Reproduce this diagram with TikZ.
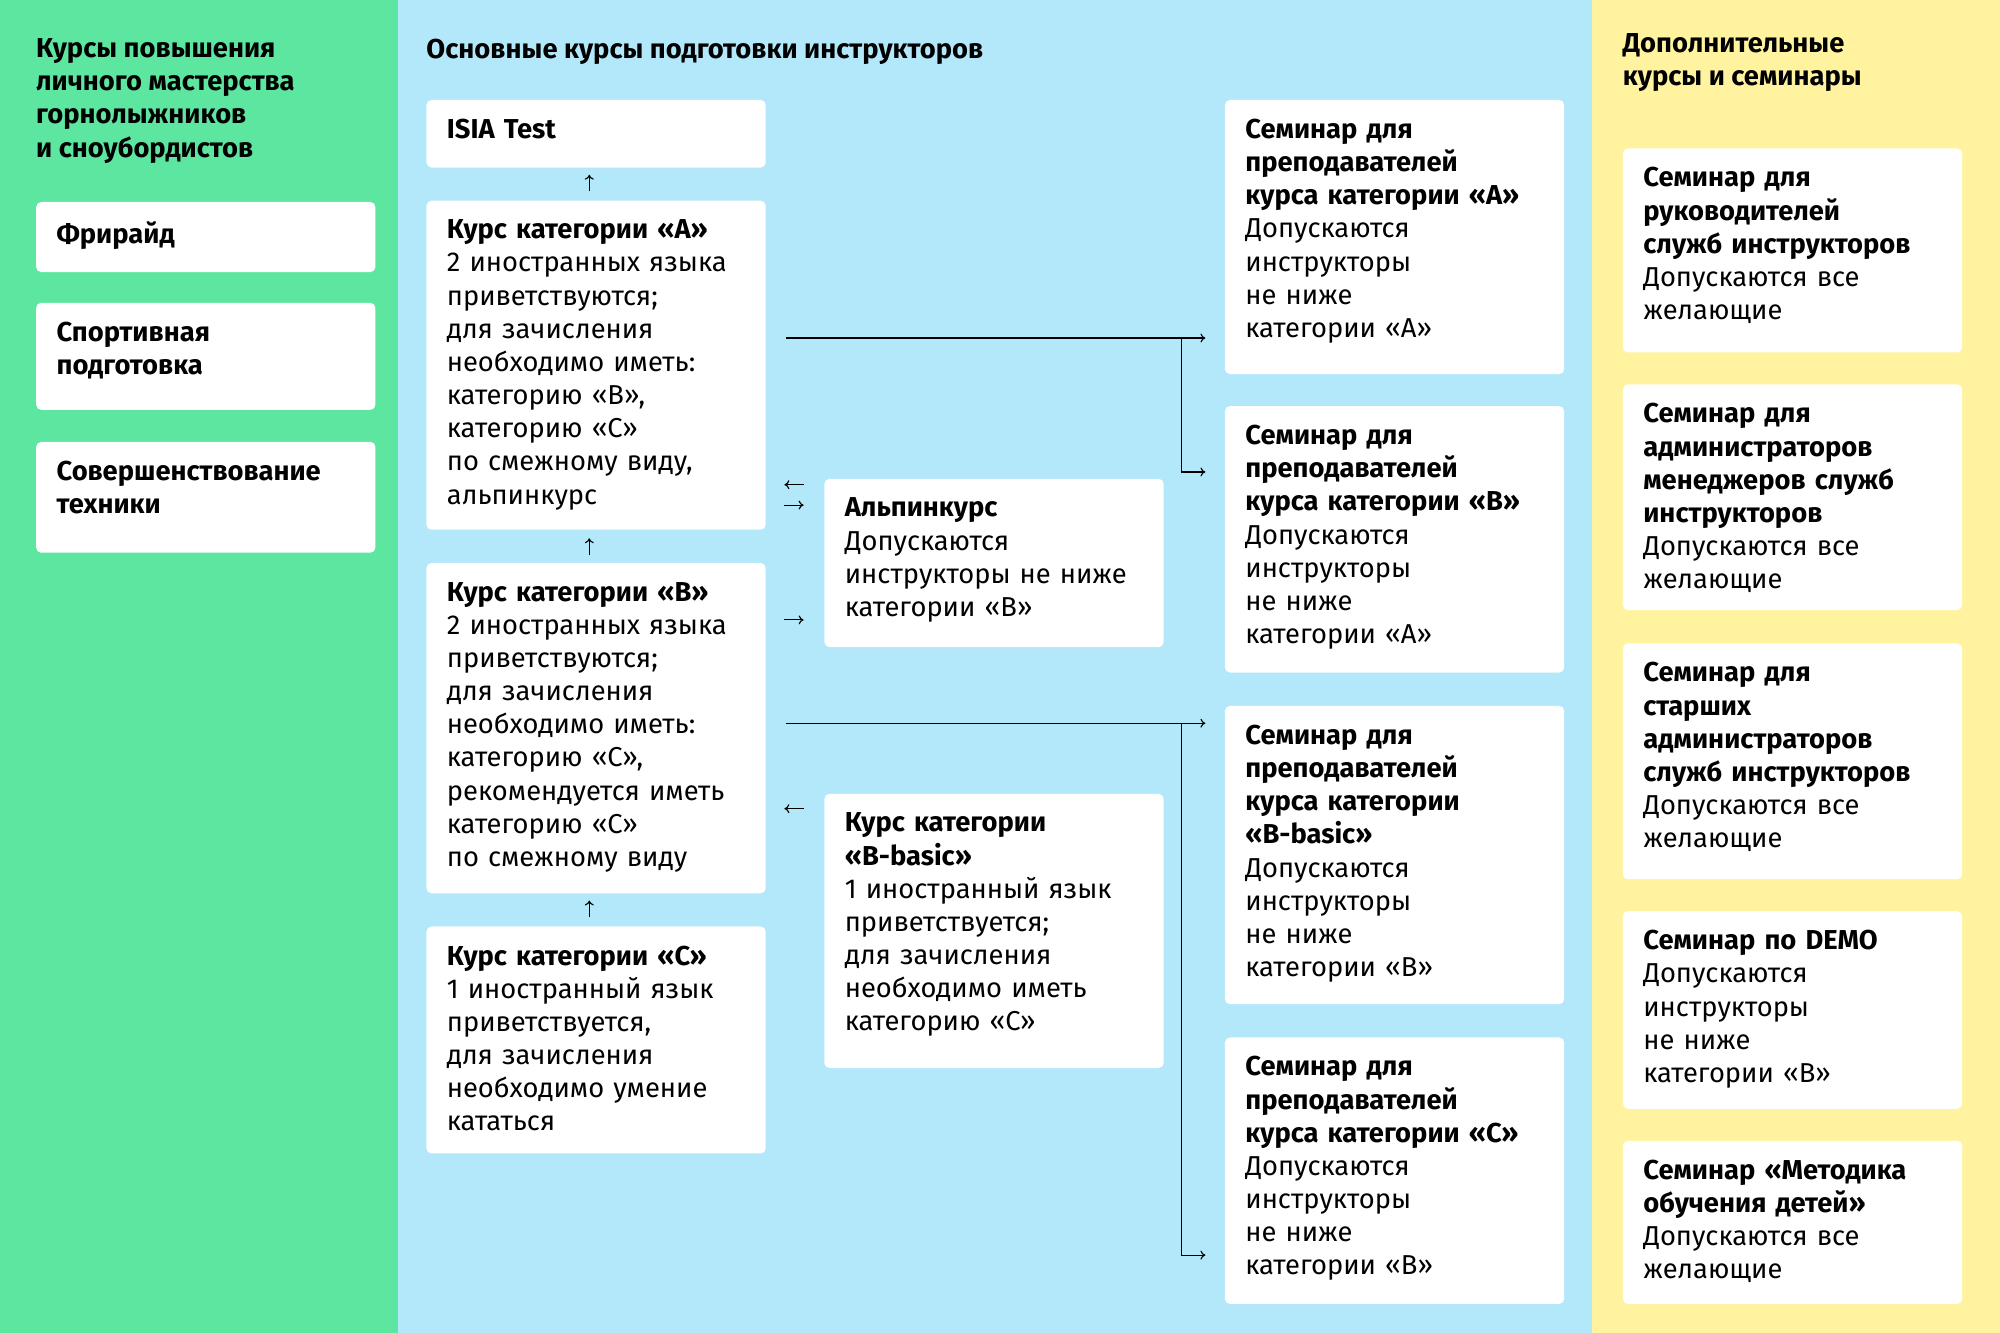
\documentclass[tikz,border=0pt]{standalone}
\usepackage{fontspec}
\setmainfont{Fira Sans}
\usetikzlibrary{arrows.meta,positioning}
\definecolor{grn}{HTML}{5CE6A0}
\definecolor{blu}{HTML}{B3E8FA}
\definecolor{ylw}{HTML}{FFF3A0}
\tikzset{
  card/.style={fill=white, rounded corners=0.08cm, anchor=north west, minimum width=5.32cm, inner sep=0pt},
  cardtext/.style={anchor=north west, text width=5cm, align=left, inner sep=0pt, xshift=0.32cm, yshift=-0.3cm,
    font=\fontsize{12.2}{14.8}\selectfont},
  head/.style={anchor=north west, align=left, inner sep=0pt, font=\fontsize{12.2}{14.8}\selectfont\bfseries},
  arr/.style={-{To[length=2.2pt,width=4pt]}, line width=0.5pt}
}
\begin{document}
\begin{tikzpicture}[x=0.02cm,y=-0.02cm]
    % Columns
    \useasboundingbox (0,0) rectangle (1568,1045);
    \fill[grn] (0,0) rectangle (312,1045);
    \fill[blu] (312,0) rectangle (1248,1045);
    \fill[ylw] (1248,0) rectangle (1568,1045);

    % Headers
    \node[head] (h1) at (28,30) {Курсы повышения\\личного мастерства\\горнолыжников\\и сноубордистов};
    \node[head] (h2) at (334,30) {Основные курсы подготовки инструкторов};
    \node[head] (h3) at (1272,26) {Дополнительные\\курсы и семинары};

    % Left column
    \node[card, minimum height=1.1cm] (fr) at (28,158) {};
    \node[cardtext] at (fr.north west) {\textbf{Фрирайд}};
    \node[card, minimum height=1.68cm] (sp) at (28,237) {};
    \node[cardtext] at (sp.north west) {\textbf{Спортивная\\подготовка}};
    \node[card, minimum height=1.74cm] (st) at (28,346) {};
    \node[cardtext] at (st.north west) {\textbf{Совершенствование\\техники}};

    % Main courses
    \node[card, minimum height=1.06cm] (isia) at (334,78) {};
    \node[cardtext] at (isia.north west) {\textbf{ISIA Test}};
    \node[card, minimum height=5.16cm] (ka) at (334,157) {};
    \node[cardtext] at (ka.north west) {\textbf{Курс категории «А»}\\2 иностранных языка\\приветствуются;\\для зачисления\\необходимо иметь:\\категорию «B»,\\категорию «C»\\по смежному виду,\\альпинкурс};
    \node[card, minimum height=5.18cm] (kb) at (334,441) {};
    \node[cardtext] at (kb.north west) {\textbf{Курс категории «B»}\\2 иностранных языка\\приветствуются;\\для зачисления\\необходимо иметь:\\категорию «C»,\\рекомендуется иметь\\категорию «C»\\по смежному виду};
    \node[card, minimum height=3.56cm] (kc) at (334,726) {};
    \node[cardtext] at (kc.north west) {\textbf{Курс категории «C»}\\1 иностранный язык\\приветствуется,\\для зачисления\\необходимо умение\\кататься};

    \node[card, minimum height=2.64cm] (alp) at (646,375) {};
    \node[cardtext] at (alp.north west) {\textbf{Альпинкурс}\\Допускаются\\инструкторы не ниже\\категории «B»};
    \node[card, minimum height=4.3cm] (bb) at (646,622) {};
    \node[cardtext] at (bb.north west) {\textbf{Курс категории\\«B-basic»}\\1 иностранный язык\\приветствуется;\\для зачисления\\необходимо иметь\\категорию «C»};

    \node[card, minimum height=4.3cm] (sa) at (960,78) {};
    \node[cardtext] at (sa.north west) {\textbf{Семинар для\\преподавателей\\курса категории «А»}\\Допускаются\\инструкторы\\не ниже\\категории «А»};
    \node[card, minimum height=4.18cm] (sb) at (960,318) {};
    \node[cardtext] at (sb.north west) {\textbf{Семинар для\\преподавателей\\курса категории «B»}\\Допускаются\\инструкторы\\не ниже\\категории «А»};
    \node[card, minimum height=4.68cm] (sbb) at (960,553) {};
    \node[cardtext] at (sbb.north west) {\textbf{Семинар для\\преподавателей\\курса категории\\«B-basic»}\\Допускаются\\инструкторы\\не ниже\\категории «B»};
    \node[card, minimum height=4.18cm] (sc) at (960,813) {};
    \node[cardtext] at (sc.north west) {\textbf{Семинар для\\преподавателей\\курса категории «C»}\\Допускаются\\инструкторы\\не ниже\\категории «B»};

    % Additional courses
    \node[card, minimum height=3.2cm] (y1) at (1272,116) {};
    \node[cardtext] at (y1.north west) {\textbf{Семинар для\\руководителей\\служб инструкторов}\\Допускаются все\\желающие};
    \node[card, minimum height=3.54cm] (y2) at (1272,301) {};
    \node[cardtext] at (y2.north west) {\textbf{Семинар для\\администраторов\\менеджеров служб\\инструкторов}\\Допускаются все\\желающие};
    \node[card, minimum height=3.7cm] (y3) at (1272,504) {};
    \node[cardtext] at (y3.north west) {\textbf{Семинар для\\старших\\администраторов\\служб инструкторов}\\Допускаются все\\желающие};
    \node[card, minimum height=3.1cm] (y4) at (1272,714) {};
    \node[cardtext] at (y4.north west) {\textbf{Семинар по DEMO}\\Допускаются\\инструкторы\\не ниже\\категории «B»};
    \node[card, minimum height=2.56cm] (y5) at (1272,894) {};
    \node[cardtext] at (y5.north west) {\textbf{Семинар «Методика\\обучения детей»}\\Допускаются все\\желающие};

    % Arrows between courses
    \coordinate (p1) at (462,150);
    \coordinate (p2) at (462,137);
    \draw[arr] (p1) -- (p2);
    \coordinate (p3) at (462,435);
    \coordinate (p4) at (462,422);
    \draw[arr] (p3) -- (p4);
    \coordinate (p5) at (462,719);
    \coordinate (p6) at (462,706);
    \draw[arr] (p5) -- (p6);

    \coordinate (q1) at (630,380);
    \coordinate (q2) at (615,380);
    \draw[arr] (q1) -- (q2);
    \coordinate (q3) at (615,396);
    \coordinate (q4) at (630,396);
    \draw[arr] (q3) -- (q4);
    \coordinate (q5) at (615,486);
    \coordinate (q6) at (630,486);
    \draw[arr] (q5) -- (q6);
    \coordinate (q7) at (630,634);
    \coordinate (q8) at (615,634);
    \draw[arr] (q7) -- (q8);

    % Links to seminars
    \coordinate (la) at (616,265);
    \coordinate (ja) at (926,265);
    \coordinate (ea) at (945,265);
    \coordinate (eb) at (945,370);
    \draw[arr] (la) -- (ea);
    \draw[arr] (ja) |- (eb);
    \coordinate (lb) at (616,567);
    \coordinate (jb) at (926,567);
    \coordinate (ec) at (945,567);
    \coordinate (ed) at (945,984);
    \draw[arr] (lb) -- (ec);
    \draw[arr] (jb) |- (ed);
\end{tikzpicture}
\end{document}
